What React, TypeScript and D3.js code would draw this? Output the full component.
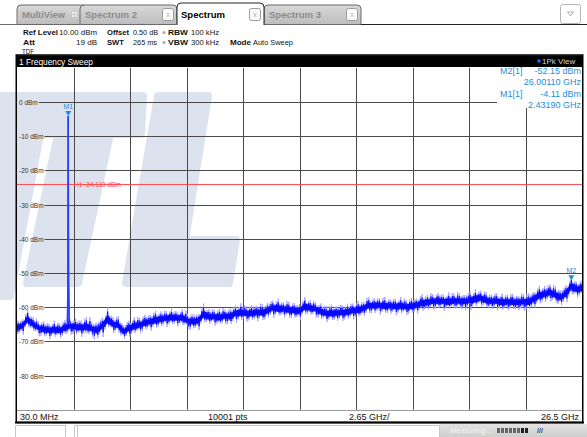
import React, { useEffect, useRef } from "react";
import * as d3 from "d3";

// ---- data ----
const freqStartGHz = 0.03;
const freqStopGHz = 26.5;
const refLevelDb = 10;
const bottomDb = -90;
const yTickDb = [0, -10, -20, -30, -40, -50, -60, -70, -80];

// trace level (dBm), 107 evenly spaced samples from 30 MHz to 26.5 GHz
const traceDb = [
  -66, -65.5, -63.5, -65, -66, -66.5, -66.8, -66.5, -66.8, -66, -65.5, -65.8, -66, -65.6, -66.3, -66.8,
  -65.5, -63.5, -65, -65.2, -67.2, -66.2, -65.5, -65.2, -64.6, -64.2, -63.8, -63.5, -63.2, -63, -63.2,
  -63, -64, -64.3, -64, -62, -62.8, -62.8, -63, -62.6, -62.8, -61.8, -61.6, -61.8, -61.8, -61.5, -61.6,
  -61, -60.2, -60.4, -60.5, -60.8, -61, -61.2, -59.8, -60.2, -60.5, -61.3, -61.8, -61.8, -61.7, -61.6,
  -61.4, -61, -60.8, -60.3, -59.5, -59.6, -59.4, -59.7, -59.6, -59.8, -59.6, -59.9, -59.7, -59.4, -58.8,
  -58.6, -58.3, -58.2, -58.3, -58.4, -58.1, -58.2, -58.4, -58, -57.6, -57.3, -58, -58.3, -58.2, -58.6,
  -58.4, -58.5, -58.6, -58.4, -58.5, -57.6, -56.5, -56.2, -55.6, -56.4, -57.2, -56, -53.8, -54.8, -54.5,
];
// half width of the noise band (dB) at the same samples
const traceSpread = [
  1.4, 1.2, 1.8, 1.3, 1.1, 1.5, 1.2, 1.6, 1.3, 1.4, 1.2, 1.5, 1.3, 1.7, 1.2, 1.4, 1.5, 2.2, 1.3, 1.6,
  1.2, 1.4, 1.6, 1.3, 1.5, 1.2, 1.7, 1.4, 1.3, 1.6, 1.2, 1.5, 1.3, 1.4, 1.2, 1.9, 1.4, 1.3, 1.6, 1.2,
  1.5, 1.4, 1.7, 1.3, 1.5, 1.2, 1.6, 1.4, 1.3, 1.8, 1.2, 1.5, 1.4, 1.3, 1.7, 1.4, 1.2, 1.5, 1.3, 1.6,
  1.2, 1.4, 1.5, 1.3, 1.6, 1.2, 1.5, 1.4, 1.3, 1.7, 1.2, 1.4, 1.6, 1.3, 1.5, 1.2, 1.6, 1.4, 1.3, 1.5,
  1.2, 1.7, 1.3, 1.4, 1.2, 1.6, 1.8, 1.3, 1.5, 1.2, 1.4, 1.6, 1.3, 1.5, 1.2, 1.4, 1.6, 1.3, 1.7, 1.5,
  1.4, 1.6, 1.3, 1.5, 1.8, 1.4, 1.5,
];
// M1 carrier spike
const spikeFreqGHz = [2.39, 2.415, 2.4319, 2.448, 2.475];
const spikeDb = [-64.5, -52, -4.11, -52, -64.5];

const markers = [
  { name: "M1", freq: 2.4319, level: -4.11, freqLabel: "2.43190 GHz", levelLabel: "-4.11 dBm" },
  { name: "M2", freq: 26.0011, level: -52.15, freqLabel: "26.00110 GHz", levelLabel: "-52.15 dBm" },
];
const lineH1Db = -24.11;

const W = 587;
const H = 437;

export default function App() {
  const ref = useRef<SVGSVGElement | null>(null);

  useEffect(() => {
    const svg = d3.select(ref.current);
    svg.selectAll("*").remove();
    const font = "'Liberation Sans', Arial, sans-serif";

    const left = 17, right = 582, top = 67.8, bottom = 409.8;
    const x = d3.scaleLinear().domain([freqStartGHz, freqStopGHz]).range([left, right]);
    const y = d3.scaleLinear().domain([bottomDb, refLevelDb]).range([bottom, top]);

    svg.append("rect").attr("width", W).attr("height", H).attr("fill", "#fff");

    const fit = (sel: any, len: number) => sel.attr("textLength", len).attr("lengthAdjust", "spacingAndGlyphs");

    // ---- tabs ----
    const tabs = svg.append("g");
    const tabPath = (x0: number, x1: number, y0: number, y1: number) =>
      `M${x0},${y1} L${x0},${y0 + 4} Q${x0},${y0} ${x0 + 4},${y0} L${x1 - 4},${y0} Q${x1},${y0} ${x1},${y0 + 4} L${x1},${y1}`;
    const inactive = [
      { x0: 17, x1: 88, label: "MultiView", close: false, tl: 43 },
      { x0: 80, x1: 177, label: "Spectrum 2", close: true, tl: 52 },
      { x0: 264, x1: 361, label: "Spectrum 3", close: true, tl: 52 },
    ];
    const defs = svg.append("defs");
    const grad = defs.append("linearGradient").attr("id", "tabg").attr("x1", 0).attr("x2", 0).attr("y1", 0).attr("y2", 1);
    grad.append("stop").attr("offset", 0).attr("stop-color", "#d8d8d8");
    grad.append("stop").attr("offset", 1).attr("stop-color", "#bdbdbd");
    inactive.forEach((t) => {
      tabs.append("path").attr("d", tabPath(t.x0, t.x1, 5, 24.5) + " Z").attr("fill", "url(#tabg)").attr("stroke", "#6a6a6a").attr("stroke-width", 1);
      fit(tabs.append("text").attr("x", t.x0 + 5).attr("y", 18).attr("font-family", font).attr("font-weight", "bold")
        .attr("font-size", 9.5).attr("fill", "#8c8c8c").text(t.label), t.tl);
      if (t.close) {
        tabs.append("rect").attr("x", t.x1 - 14.5).attr("y", 8.5).attr("width", 11).attr("height", 12).attr("rx", 2)
          .attr("fill", "#fafafa").attr("stroke", "#9a9a9a");
        tabs.append("text").attr("x", t.x1 - 9).attr("y", 17).attr("text-anchor", "middle").attr("font-family", font)
          .attr("font-size", 7).attr("fill", "#b0b0b0").text("x");
      }
    });
    [0, 3].forEach((dx) => [0, 3].forEach((dy) => {
      tabs.append("rect").attr("x", 72 + dx).attr("y", 12 + dy).attr("width", 2).attr("height", 2).attr("fill", "#eeeeee");
    }));
    tabs.append("path").attr("d", tabPath(177, 264, 3, 25)).attr("fill", "#fff").attr("stroke", "#222").attr("stroke-width", 1);
    fit(tabs.append("text").attr("x", 181).attr("y", 18).attr("font-family", font).attr("font-weight", "bold")
      .attr("font-size", 9.5).attr("fill", "#000").text("Spectrum"), 44);
    tabs.append("rect").attr("x", 249.5).attr("y", 8.5).attr("width", 11).attr("height", 12).attr("rx", 2)
      .attr("fill", "#fafafa").attr("stroke", "#9a9a9a");
    tabs.append("text").attr("x", 255).attr("y", 17).attr("text-anchor", "middle").attr("font-family", font)
      .attr("font-size", 7).attr("fill", "#b0b0b0").text("x");
    tabs.append("line").attr("x1", 361).attr("x2", W).attr("y1", 24.5).attr("y2", 24.5).attr("stroke", "#222");
    tabs.append("line").attr("x1", 0).attr("x2", 177).attr("y1", 24.5).attr("y2", 24.5).attr("stroke", "#6a6a6a");
    tabs.append("rect").attr("x", 560.5).attr("y", 4.5).attr("width", 20).attr("height", 19).attr("rx", 2)
      .attr("fill", "#fff").attr("stroke", "#b5b5b5");
    tabs.append("path").attr("d", "M567.5,12 L573.5,12 L570.5,16 Z").attr("fill", "none").attr("stroke", "#999").attr("stroke-width", 0.8);

    // ---- settings text ----
    const info = svg.append("g").attr("font-family", font).attr("font-size", 8).attr("fill", "#111");
    const t = (xx: number, yy: number, s: string, len: number, bold = false, anchor = "start") =>
      fit(info.append("text").attr("x", xx).attr("y", yy).attr("font-weight", bold ? "bold" : "normal")
        .attr("text-anchor", anchor).text(s), len);
    t(23, 35, "Ref Level", 35, true);
    t(59, 35, "10.00 dBm", 38);
    t(107, 35, "Offset", 22, true);
    t(133, 35, "0.50 dB", 25);
    t(168, 35, "RBW", 20, true);
    t(191, 35, "100 kHz", 28);
    t(23, 45, "Att", 12, true);
    t(76, 45, "19 dB", 21);
    t(107, 45, "SWT", 17, true);
    t(133, 45, "265 ms", 24);
    t(168, 45, "VBW", 20, true);
    t(191, 45, "300 kHz", 28);
    t(230, 45, "Mode", 21, true);
    t(253, 45, "Auto Sweep", 40);
    t(22, 54, "TDF", 12).attr("font-size", 7.5);
    [32.5, 42.5].forEach((yy) =>
      info.append("circle").attr("cx", 164).attr("cy", yy).attr("r", 1.6).attr("fill", "#aaa"));

    // ---- window title bar ----
    svg.append("rect").attr("x", 16).attr("y", 55).attr("width", 567).attr("height", 12).attr("fill", "#000");
    svg.append("line").attr("x1", 16).attr("x2", 583).attr("y1", 55.5).attr("y2", 55.5).attr("stroke", "#555");
    fit(svg.append("text").attr("x", 19).attr("y", 64.5).attr("font-family", font).attr("font-size", 9)
      .attr("fill", "#fff").text("1 Frequency Sweep"), 74);
    svg.append("circle").attr("cx", 539).attr("cy", 61).attr("r", 1.8).attr("fill", "#1e6bff");
    svg.append("text").attr("x", 542).attr("y", 64).attr("font-family", font).attr("font-size", 8)
      .attr("fill", "#d0d0d0").text("1Pk View");

    // ---- watermark ----
    const wm = svg.append("g").attr("fill", "#dde3ee").attr("stroke", "#dde3ee").attr("stroke-width", 8)
      .attr("stroke-linejoin", "round");
    const poly = (pts: number[][]) => wm.append("path").attr("d", "M" + pts.map((p) => p.join(",")).join("L") + "Z");
    poly([[-10, 96], [143, 96], [141, 134], [-10, 134]]);
    poly([[58, 134], [110, 134], [78, 283], [27, 283]]);
    poly([[-10, 134], [40, 134], [10, 296], [-10, 296]]);
    poly([[158, 96], [208, 96], [185, 240], [236, 240], [229, 283], [126, 283]]);

    // ---- grid ----
    const grid = svg.append("g");
    const vTicks = d3.range(1, 10).map((i) => left + ((right - left) * i) / 10);
    vTicks.forEach((vx) =>
      grid.append("line").attr("x1", Math.round(vx) + 0.5).attr("x2", Math.round(vx) + 0.5).attr("y1", top).attr("y2", bottom)
        .attr("stroke", "#4a4a4a").attr("stroke-width", 1));
    yTickDb.forEach((db) => {
      const yy = Math.round(y(db)) + 0.5;
      const label = grid.append("text").attr("x", 19).attr("y", yy + 2.2).attr("font-family", font)
        .attr("font-size", 6.5).attr("fill", "#333").text(`${db} dBm`);
      const w = (label.node() as SVGTextElement).getComputedTextLength();
      grid.append("line").attr("x1", 19 + w + 1).attr("x2", right).attr("y1", yy).attr("y2", yy)
        .attr("stroke", "#4a4a4a").attr("stroke-width", 1);
    });

    // ---- H1 line ----
    const hy = y(lineH1Db);
    svg.append("line").attr("x1", left).attr("x2", right).attr("y1", hy).attr("y2", hy).attr("stroke", "#ff4a4a").attr("stroke-width", 1);
    svg.append("text").attr("x", 74).attr("y", hy + 2.3).attr("font-family", font).attr("font-size", 6.5)
      .attr("fill", "#ff4a4a").text("H1  -24.110 dBm");

    // ---- trace ----
    const n = traceDb.length;
    const fAt = (i: number) => freqStartGHz + ((freqStopGHz - freqStartGHz) * i) / (n - 1);
    const dx = x(fAt(1)) - x(fAt(0));
    const sp = (i: number) => traceSpread[Math.min(n - 1, i)];
    const zig = (amp: number) => {
      const pts: [number, number][] = [];
      const pattern = [1, -1, 0.6, -0.8, 0.9, -0.5];
      for (let i = 0; i < n; i++) {
        const xi = x(fAt(i));
        if (i === n - 1) {
          pts.push([xi, y(traceDb[i] + sp(i) * amp)]);
          break;
        }
        const steps = 6;
        for (let k = 0; k < steps; k++) {
          const u = k / steps;
          const c = traceDb[i] * (1 - u) + traceDb[i + 1] * u;
          pts.push([xi + dx * u, y(c + pattern[k] * sp(i + k) * amp)]);
        }
        if (fAt(i) < spikeFreqGHz[0] && fAt(i + 1) > spikeFreqGHz[0]) {
          spikeFreqGHz.forEach((f, k) => pts.push([x(f), y(spikeDb[k])]));
        }
      }
      return pts;
    };
    const line = d3.line();
    const band = d3.area<number>()
      .x((i) => x(fAt(i)))
      .y0((i) => y(traceDb[i] - traceSpread[i] * 0.55))
      .y1((i) => y(traceDb[i] + traceSpread[i] * 0.55));
    svg.append("path").attr("d", line(zig(1.6))).attr("fill", "none").attr("stroke", "#a0a0ff").attr("stroke-width", 0.9);
    svg.append("path").attr("d", band(d3.range(n))).attr("fill", "#1010ff");
    svg.append("path").attr("d", line(zig(1.0))).attr("fill", "none").attr("stroke", "#0808ff").attr("stroke-width", 0.9);
    svg.append("path").attr("d", line(spikeFreqGHz.map((f, k) => [x(f), y(spikeDb[k])] as [number, number])))
      .attr("fill", "none").attr("stroke", "#2a3cff").attr("stroke-width", 1.4);

    // ---- markers ----
    const mColor = "#1e8fd6";
    markers.forEach((m) => {
      const mx = x(m.freq);
      const my = y(m.level);
      svg.append("path").attr("d", `M${mx - 3},${my - 5} L${mx + 3},${my - 5} L${mx},${my} Z`).attr("fill", mColor);
      svg.append("text").attr("x", mx).attr("y", my - 7).attr("text-anchor", "middle").attr("font-family", font)
        .attr("font-size", 7).attr("fill", mColor).text(m.name);
    });

    // marker table
    svg.append("rect").attr("x", 497).attr("y", 67).attr("width", 85).attr("height", 41).attr("fill", "#fff");
    const mt = svg.append("g").attr("font-family", font).attr("font-size", 9).attr("fill", mColor);
    const rows = [markers[1], markers[0]];
    rows.forEach((m, k) => {
      const y0 = 74 + k * 23;
      mt.append("text").attr("x", 500).attr("y", y0).text(`${m.name}[1]`);
      mt.append("text").attr("x", 581).attr("y", y0).attr("text-anchor", "end").text(m.levelLabel);
      mt.append("text").attr("x", 581).attr("y", y0 + 11).attr("text-anchor", "end").text(m.freqLabel);
    });

    // ---- bottom label row ----
    svg.append("rect").attr("x", 17).attr("y", 410).attr("width", 565).attr("height", 12).attr("fill", "#fff");
    svg.append("line").attr("x1", 17).attr("x2", 582).attr("y1", 410.5).attr("y2", 410.5).attr("stroke", "#999");
    const bl = svg.append("g").attr("font-family", font).attr("font-size", 9).attr("fill", "#111");
    bl.append("text").attr("x", 20).attr("y", 419.5).text("30.0 MHz");
    bl.append("text").attr("x", 208).attr("y", 419.5).text("10001 pts");
    bl.append("text").attr("x", 349).attr("y", 419.5).text("2.65 GHz/");
    bl.append("text").attr("x", 579).attr("y", 419.5).attr("text-anchor", "end").text("26.5 GHz");

    svg.append("rect").attr("x", 16.25).attr("y", 55).attr("width", 566.5).attr("height", 367.5).attr("fill", "none")
      .attr("stroke", "#000").attr("stroke-width", 1.5);
    svg.append("line").attr("x1", 15).attr("x2", 584).attr("y1", 422.5).attr("y2", 422.5).attr("stroke", "#000").attr("stroke-width", 2);

    // ---- status bar ----
    const sg = defs.append("linearGradient").attr("id", "stg").attr("x1", 0).attr("x2", 0).attr("y1", 0).attr("y2", 1);
    sg.append("stop").attr("offset", 0).attr("stop-color", "#e2e2e2");
    sg.append("stop").attr("offset", 1).attr("stop-color", "#cfcfcf");
    svg.append("rect").attr("x", 15.5).attr("y", 425.5).attr("width", 50).attr("height", 14).attr("fill", "#fff").attr("stroke", "#c8c8c8");
    svg.append("rect").attr("x", 74.5).attr("y", 425.5).attr("width", 365).attr("height", 14).attr("fill", "#fff").attr("stroke", "#c8c8c8");
    svg.append("line").attr("x1", 77.5).attr("x2", 77.5).attr("y1", 425).attr("y2", 437).attr("stroke", "#c8c8c8");
    svg.append("rect").attr("x", 440).attr("y", 424).attr("width", 147).attr("height", 13).attr("fill", "url(#stg)");
    svg.append("text").attr("x", 450).attr("y", 433).attr("font-family", font).attr("font-size", 7.5).attr("fill", "#f2f2f2").text("Measuring...");
    d3.range(8).forEach((i) =>
      svg.append("rect").attr("x", 497 + i * 4).attr("y", 428).attr("width", 3).attr("height", 5)
        .attr("fill", i > 5 ? "#222" : "#666"));
    svg.append("text").attr("x", 537).attr("y", 433).attr("font-family", font).attr("font-size", 7).attr("font-weight", "bold").attr("fill", "#444").text("///");
  }, []);

  return (
    <svg ref={ref} width={W} height={H} style={{ position: "absolute", left: 0, top: 0 }} />
  );
}
